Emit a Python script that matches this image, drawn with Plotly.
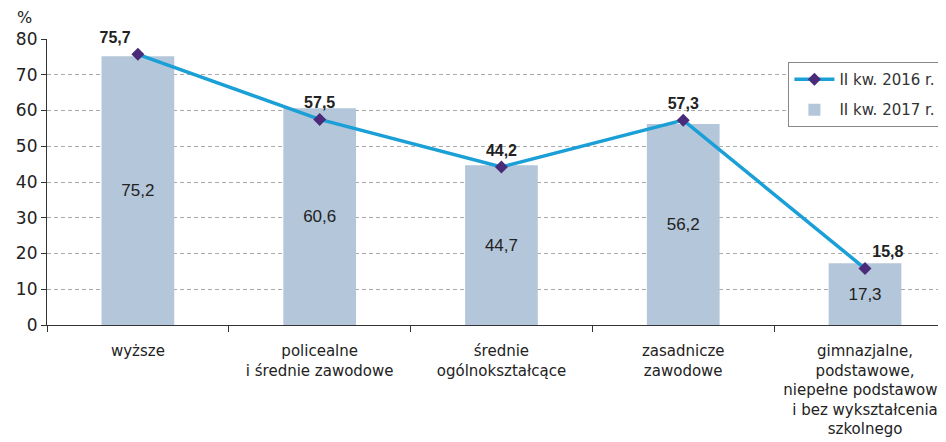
import plotly.graph_objects as go

categories = [
    "wyższe",
    "policealne<br>i średnie zawodowe",
    "średnie<br>ogólnokształcące",
    "zasadnicze<br>zawodowe",
    "gimnazjalne,<br>podstawowe,<br>niepełne podstawowe<br>i bez wykształcenia<br>szkolnego",
]
values_2017 = [75.2, 60.6, 44.7, 56.2, 17.3]
values_2016 = [75.7, 57.5, 44.2, 57.3, 15.8]
labels_2017 = ["75,2", "60,6", "44,7", "56,2", "17,3"]
labels_2016 = ["75,7", "57,5", "44,2", "57,3", "15,8"]
y_ticks = [0, 10, 20, 30, 40, 50, 60, 70, 80]

FONT = "Liberation Sans, Arial, sans-serif"
WIDE = "DejaVu Sans, Verdana, sans-serif"

fig = go.Figure()
fig.add_trace(go.Bar(
    x=categories, y=values_2017, name="II kw. 2017 r.",
    legendgroup="b", legendrank=2,
    marker=dict(color="#b4c6d9", line=dict(width=0)),
    width=0.4,
    text=labels_2017, textposition="inside", insidetextanchor="middle",
    textfont=dict(size=17, color="#222222", family=FONT),
    textangle=0,
))
fig.add_trace(go.Scatter(
    x=categories, y=values_2016, name="II kw. 2016 r.",
    legendgroup="a", legendrank=1,
    mode="lines+markers+text",
    line=dict(color="#1a9fd6", width=3.5),
    marker=dict(symbol="diamond", size=10, color="#4a2b7a"),
    text=["<b>%s</b>" % t for t in labels_2016],
    textposition=["top left", "top center", "top center", "top center", "top right"],
    textfont=dict(size=16, color="#222222", family=FONT),
    cliponaxis=False,
))

fig.update_layout(
    width=946, height=442,
    margin=dict(l=34, r=8, t=31, b=125),
    paper_bgcolor="white", plot_bgcolor="white",
    font=dict(family=FONT, size=16, color="#222222"),
    showlegend=True,
    legend=dict(
        x=0.996, y=0.92, xanchor="right", yanchor="top",
        bordercolor="#888888", borderwidth=1, bgcolor="white",
        font=dict(size=15, color="#333333", family=WIDE),
        traceorder="grouped", tracegroupgap=8, itemwidth=40,
    ),
    xaxis=dict(
        type="category", range=[-0.5, 4.44],
        tickson="boundaries", ticks="outside", ticklen=6, tickcolor="#333333",
        showline=True, linecolor="#333333", linewidth=1.2,
        tickfont=dict(size=15, color="#222222", family=WIDE),
        ticklabelstandoff=12,
        showgrid=False,
    ),
    yaxis=dict(
        range=[0, 80], tickvals=y_ticks,
        ticks="outside", ticklen=5, tickcolor="#333333",
        showline=True, linecolor="#333333", linewidth=1.2,
        showgrid=True, gridcolor="#aaaaaa", griddash="4px,3px", gridwidth=1,
        tickfont=dict(size=17, color="#222222", family=WIDE),
        zeroline=False,
    ),
    annotations=[dict(
        text="%", xref="paper", yref="paper", x=-0.014, y=1.0,
        xanchor="right", yanchor="bottom", yshift=10, showarrow=False,
        font=dict(size=16, color="#222222", family=WIDE),
    )],
)

fig.write_html("out.html")
